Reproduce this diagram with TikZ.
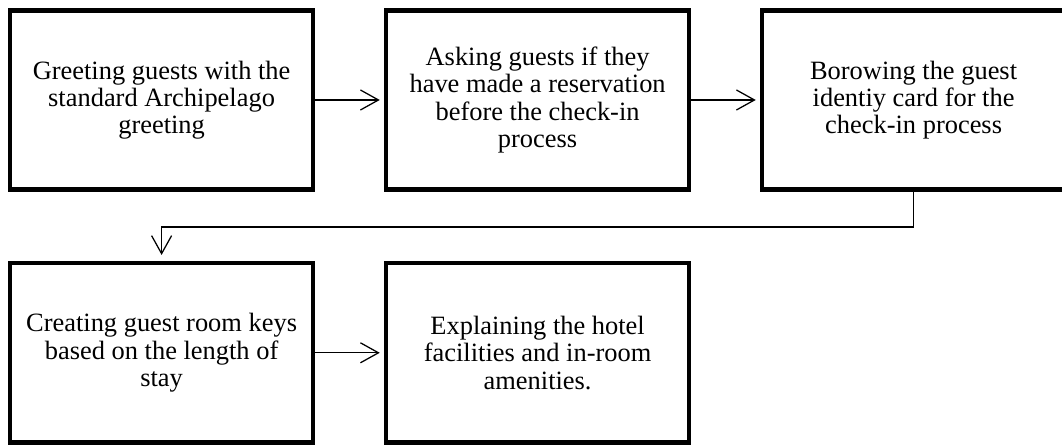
\documentclass[tikz,border=0pt]{standalone}
\usepackage{fontspec}
\setmainfont{Liberation Serif}
\usetikzlibrary{arrows.meta}

\begin{document}
\begin{tikzpicture}[
        stepbox/.style={draw, line width=3.2pt, minimum width=7.58cm, minimum height=4.48cm,
            align=center, font=\fontsize{18.8}{19.4}\selectfont, inner sep=0pt},
        flow/.style={-{Straight Barb[length=4.5mm, width=5mm]}, line width=0.9pt, shorten >=1mm}
    ]
        % Fix the page size
        \useasboundingbox (0,0) rectangle (26.55,11.15);

        % Top row
        \node[stepbox] (greet) at (4.04, 8.65) {Greeting guests with the\\standard Archipelago\\greeting};
        \node[stepbox] (reserve) at (13.44, 8.65) {Asking guests if they\\have made a reservation\\before the check-in\\process};
        \node[stepbox] (idcard) at (22.84, 8.65) {Borowing the guest\\identiy card for the\\check-in process};

        % Bottom row
        \node[stepbox] (keys) at (4.04, 2.33) {Creating guest room keys\\based on the length of\\stay};
        \node[stepbox] (facilities) at (13.44, 2.33) {Explaining the hotel\\facilities and in-room\\amenities.};

        % Arrows
        \draw[flow] (greet) -- (reserve);
        \draw[flow] (reserve) -- (idcard);
        \draw[flow, shorten >=1.5mm] (idcard.south) -- ++(0,-0.88) -| (keys.north);
        \draw[flow] (keys) -- (facilities);

    \end{tikzpicture}
\end{document}
